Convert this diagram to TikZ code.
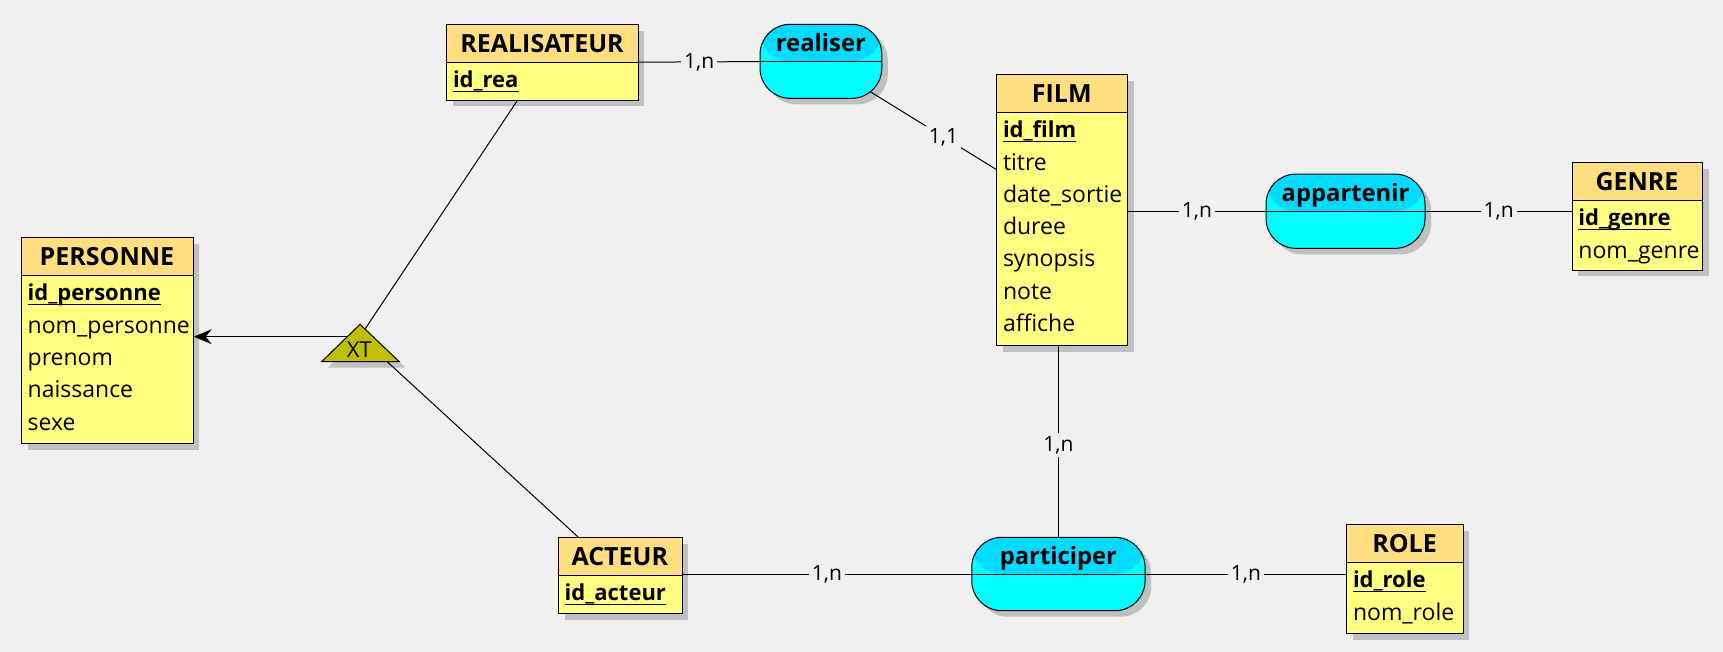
\documentclass[tikz,border=0pt]{standalone}
\usepackage{fontspec}
\setmainfont{Open Sans}
\usepackage{tikz}
\usetikzlibrary{positioning}
\usetikzlibrary{shadows}
\usetikzlibrary{arrows.meta}
\usetikzlibrary{calc}

\definecolor{fond}{HTML}{F0F0F0}
\definecolor{entete}{HTML}{FFDE80}
\definecolor{jaune}{HTML}{FFFF80}
\definecolor{cyanfonce}{HTML}{00DCFF}
\definecolor{cyanclair}{HTML}{00FFFF}
\definecolor{olive}{HTML}{C0C000}
\definecolor{ombre}{HTML}{C0C0C0}

\newcommand{\cle}[1]{\setbox0\hbox{#1}\rlap{\rule[-4.2pt]{\wd0}{1.3pt}}\box0}

\begin{document}
\begin{tikzpicture}[x=1pt, y=-1pt,
  entite/.style={draw, line width=1pt, fill=jaune, anchor=north west, inner sep=0pt,
    drop shadow={shadow xshift=6pt, shadow yshift=-6pt, fill=ombre, opacity=1},
    path picture={
      \fill[entete] (path picture bounding box.north west) rectangle ([yshift=-37.5pt]path picture bounding box.north east);
      \draw[line width=1pt] ([yshift=-37.5pt]path picture bounding box.north west) -- ([yshift=-37.5pt]path picture bounding box.north east);}},
  relation/.style={draw, line width=1pt, fill=cyanclair, rounded corners=30pt, inner sep=0pt,
    drop shadow={shadow xshift=6pt, shadow yshift=-6pt, fill=ombre, opacity=1},
    path picture={
      \fill[cyanfonce] (path picture bounding box.north west) rectangle (path picture bounding box.east);
      \draw[line width=1pt] (path picture bounding box.west) -- (path picture bounding box.east);}},
  titre/.style={anchor=base, inner sep=0pt, font=\fontsize{25}{25}\selectfont\bfseries},
  nomrel/.style={anchor=base, inner sep=0pt, font=\fontsize{23.8}{23.8}\selectfont\bfseries},
  attr/.style={anchor=base west, inner sep=0pt, font=\fontsize{23}{23}\selectfont},
  cleattr/.style={anchor=base west, inner sep=0pt, font=\fontsize{22}{22}\selectfont\bfseries},
  card/.style={fill=fond, inner sep=3pt, font=\fontsize{21}{21}\selectfont},
  lien/.style={line width=1pt}]

\useasboundingbox (0,0) rectangle (1723,652);
\fill[fond] (0,0) rectangle (1723,652);

% PERSONNE
\node[entite, minimum width=171.7pt, minimum height=206pt] (personne) at (21,237.3) {};
\node[titre] (personne-t) at (106.9,265.8) {PERSONNE};
\node[cleattr] (personne-1) at (27.5,300.8) {\cle{id\_personne}};
\node[attr] (personne-2) at (27.5,333.1) {nom\_personne};
\node[attr] (personne-3) at (27.5,365.4) {prenom};
\node[attr] (personne-4) at (27.5,397.7) {naissance};
\node[attr] (personne-5) at (27.5,430.0) {sexe};

% REALISATEUR
\node[entite, minimum width=191.4pt, minimum height=75.7pt] (rea) at (446.3,24.3) {};
\node[titre] (rea-t) at (542,52.8) {REALISATEUR};
\node[cleattr] (rea-1) at (452.8,87.8) {\cle{id\_rea}};

% ACTEUR
\node[entite, minimum width=123.6pt, minimum height=76pt] (acteur) at (558,537.3) {};
\node[titre] (acteur-t) at (619.8,565.8) {ACTEUR};
\node[cleattr] (acteur-1) at (564.5,600.8) {\cle{id\_acteur}};

% FILM
\node[entite, minimum width=131pt, minimum height=270.7pt] (film) at (996.3,74.3) {};
\node[titre] (film-t) at (1061.8,102.8) {FILM};
\node[cleattr] (film-1) at (1002.8,137.8) {\cle{id\_film}};
\node[attr] (film-2) at (1002.8,170.1) {titre};
\node[attr] (film-3) at (1002.8,202.4) {date\_sortie};
\node[attr] (film-4) at (1002.8,234.7) {duree};
\node[attr] (film-5) at (1002.8,267.0) {synopsis};
\node[attr] (film-6) at (1002.8,299.3) {note};
\node[attr] (film-7) at (1002.8,331.6) {affiche};

% GENRE
\node[entite, minimum width=130.6pt, minimum height=107.7pt] (genre) at (1571.7,162.3) {};
\node[titre] (genre-t) at (1637,190.8) {GENRE};
\node[cleattr] (genre-1) at (1578.2,225.8) {\cle{id\_genre}};
\node[attr] (genre-2) at (1578.2,258.1) {nom\_genre};

% ROLE
\node[entite, minimum width=116.4pt, minimum height=109pt] (role) at (1346.3,524.3) {};
\node[titre] (role-t) at (1404.5,552.8) {ROLE};
\node[cleattr] (role-1) at (1352.8,587.8) {\cle{id\_role}};
\node[attr] (role-2) at (1352.8,620.1) {nom\_role};

% associations
\node[relation, minimum width=121.7pt, minimum height=74pt] (realiser) at (820.9,61.3) {};
\node[nomrel] (realiser-t) at (820.9,51.3) {realiser};

\node[relation, minimum width=159pt, minimum height=74.3pt] (appartenir) at (1345.5,211.2) {};
\node[nomrel] (appartenir-t) at (1345.5,201.2) {appartenir};

\node[relation, minimum width=173.3pt, minimum height=73.4pt] (participer) at (1058.4,574) {};
\node[nomrel] (participer-t) at (1058.4,564) {participer};

% heritage XT
\coordinate (xt-h) at (360,324.3);
\coordinate (xt-g) at (321.7,361.7);
\coordinate (xt-d) at (399.3,361.7);
\fill[ombre] ([shift={(6,6)}]xt-h) -- ([shift={(6,6)}]xt-g) -- ([shift={(6,6)}]xt-d) -- cycle;
\draw[fill=olive, line width=1pt] (xt-h) -- (xt-g) -- (xt-d) -- cycle;
\node[anchor=base, inner sep=0pt, font=\fontsize{22}{22}\selectfont] (xt-t) at (359.3,357.7) {XT};
\coordinate (xt-r) at (365,329.1);
\coordinate (xt-a) at (387.2,361.7);
\coordinate (xt-p) at (347.3,336.7);

% liens
\draw[lien] (rea) -- node[card] (c1) {1,n} (realiser);
\draw[lien] ([shift={(49.5,30.5)}]realiser.center) -- node[card, pos=0.58] (c2) {1,1} (film);
\draw[lien] (appartenir.west -| film.east) -- node[card] (c3) {1,n} (appartenir.west);
\draw[lien] (appartenir.east) -- node[card] (c4) {1,n} (appartenir.east -| genre.west);
\draw[lien] (film.south -| participer.north) -- node[card, pos=0.52] (c5) {1,n} (participer.north);
\draw[lien] (participer.west -| acteur.east) -- node[card] (c6) {1,n} (participer.west);
\draw[lien] (participer.east) -- node[card] (c7) {1,n} (participer.east -| role.west);
\draw[lien] (xt-r) -- (rea);
\draw[lien] (xt-a) -- (acteur);
\draw[lien, -{Stealth[length=18pt, width=15pt, inset=6pt]}] (xt-p) -- (xt-p -| personne.east);
\end{tikzpicture}
\end{document}
